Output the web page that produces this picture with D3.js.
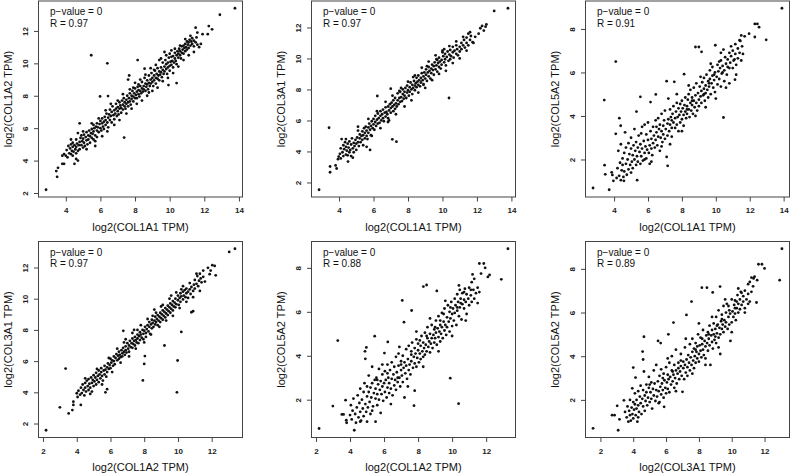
<!DOCTYPE html>
<html><head><meta charset="utf-8">
<script src="https://cdn.jsdelivr.net/npm/d3@7/dist/d3.min.js"></script>
<style>body{margin:0;background:#fff}svg{display:block}</style>
</head><body>
<script>
// ---- data ----
const xGenes = ["COL1A1","COL1A1","COL1A1","COL1A2","COL1A2","COL3A1"];
const yGenes = ["COL1A2","COL3A1","COL5A2","COL3A1","COL5A2","COL5A2"];
const pValues = ["0","0","0","0","0","0"];
const rValues = ["0.97","0.97","0.91","0.97","0.88","0.89"];

const pts1 = [[2.86,2.2],[3.5,3.0],[3.45,3.35],[3.55,3.55],[5.47,10.5],[6.4,10.0],[8.15,10.2],[7.37,5.42],[5.98,7.96],[6.44,7.98],[9.93,8.66],[10.4,8.78],[7.6,9.0],[7.66,9.25],[8.55,9.67],[9.7,10.7],[11.5,12.2],[11.9,11.8],[12.2,11.8],[12.26,12.3],[12.45,12.1],[12.9,13.0],[13.77,13.4],[4.7,5.7],
[3.8,4.3],[3.8,3.8],[3.9,3.8],[3.9,4.4],[4.0,4.3],[4.05,4.65],[4.1,4.2],[4.15,4.9],[4.2,4.45],[4.25,4.75],[4.3,5.0],[4.3,4.4],[4.35,4.6],[4.4,4.85],[4.4,4.3],[4.4,5.1],[4.45,4.55],[4.5,3.8],[4.5,4.95],[4.55,4.7],[4.6,4.45],[4.6,5.3],[4.6,4.85],[4.65,5.05],[4.7,4.0],[4.7,4.6],[4.75,4.95],[4.8,6.3],[4.8,5.15],[4.8,4.7],[4.85,5.4],[4.9,4.95],[4.9,5.55],[4.95,5.2],
[5.0,4.8],[5.0,5.35],[5.05,5.1],[5.05,5.6],[5.1,4.9],[5.15,5.45],[5.2,5.25],[5.2,5.75],[5.25,5.0],[5.3,5.55],[5.3,5.3],[5.35,5.85],[5.4,5.1],[5.4,5.5],[5.45,5.7],[5.5,5.95],[5.5,5.4],[5.55,5.65],[5.6,6.2],[5.6,5.3],[5.6,5.8],[5.65,6.0],[5.7,5.55],[5.7,5.2],[5.75,6.1],[5.8,5.85],[5.8,5.45],[5.8,6.3],[5.85,6.05],[5.9,5.75],[5.95,6.25],
[6.0,6.0],[6.0,6.45],[6.05,5.85],[6.1,6.3],[6.1,6.6],[6.15,6.1],[6.2,5.95],[6.2,6.4],[6.25,6.7],[6.3,6.2],[6.3,6.5],[6.35,6.9],[6.4,6.35],[6.45,6.05],[6.45,6.65],[6.5,6.85],[6.55,6.5],[6.55,7.15],[6.6,6.75],[6.65,6.35],[6.65,7.0],[6.7,7.35],[6.75,6.8],[6.8,7.1],[6.8,6.55],[6.85,6.9],[6.9,7.5],[6.9,7.2],[6.95,6.75],
[7.0,7.05],[7.0,7.3],[7.05,6.85],[7.1,7.6],[7.1,7.2],[7.15,7.4],[7.2,6.95],[7.2,7.25],[7.25,7.7],[7.3,7.45],[7.3,7.15],[7.35,7.85],[7.4,7.35],[7.4,7.6],[7.45,7.2],[7.5,7.75],[7.5,7.5],[7.55,8.0],[7.6,7.6],[7.6,7.35],[7.65,7.85],[7.7,8.15],[7.7,7.65],[7.75,7.45],[7.8,8.0],[7.8,7.8],[7.85,8.3],[7.9,7.65],[7.9,7.95],[7.95,8.15],
[8.0,7.85],[8.0,8.45],[8.05,8.05],[8.1,8.25],[8.1,7.85],[8.15,8.55],[8.2,8.1],[8.2,8.35],[8.25,7.95],[8.3,8.6],[8.3,8.3],[8.35,8.15],[8.4,8.45],[8.4,8.85],[8.45,8.25],[8.5,8.6],[8.5,8.4],[8.55,9.1],[8.6,8.3],[8.6,8.75],[8.65,8.55],[8.7,8.95],[8.7,8.7],[8.75,8.4],[8.8,9.25],[8.8,8.8],[8.85,8.6],[8.9,9.0],[8.9,8.75],[8.95,9.4],
[9.0,8.85],[9.0,9.1],[9.05,8.6],[9.1,9.25],[9.1,8.95],[9.15,9.55],[9.2,9.1],[9.2,8.75],[9.25,9.35],[9.3,9.05],[9.3,9.7],[9.35,9.25],[9.4,9.5],[9.4,8.95],[9.45,9.3],[9.5,9.75],[9.5,9.45],[9.55,9.15],[9.6,9.6],[9.6,10.05],[9.65,9.35],[9.7,9.8],[9.7,9.5],[9.75,10.2],[9.8,9.65],[9.8,9.95],[9.85,9.35],[9.9,10.05],[9.9,9.75],[9.95,10.35],
[10.0,9.85],[10.0,9.55],[10.05,10.1],[10.1,10.4],[10.1,9.9],[10.15,10.15],[10.2,9.75],[10.2,10.45],[10.25,10.05],[10.3,10.3],[10.3,10.65],[10.35,10.15],[10.4,10.5],[10.4,9.95],[10.45,10.75],[10.5,10.35],[10.5,10.6],[10.55,10.9],[10.6,10.5],[10.6,10.75],[10.65,10.3],[10.7,11.05],[10.7,10.65],[10.75,10.85],[10.8,11.1],[10.8,10.6],[10.85,10.95],[10.9,11.2],[10.9,10.75],[10.95,11.0],
[11.0,11.35],[11.0,10.85],[11.05,11.15],[11.1,10.95],[11.1,11.3],[11.15,11.45],[11.2,11.1],[11.25,11.35],[11.3,11.2],[11.3,11.55],[11.4,11.4],[11.4,11.05],[11.5,11.3],[11.55,11.6],[11.6,11.15],[11.7,11.0],
[4.3,5.3],[4.6,4.1],[5.0,5.8],[5.2,4.7],[5.5,6.3],[5.7,4.9],[5.9,6.6],[6.1,5.5],[6.3,7.1],[6.4,5.8],[6.6,7.5],[6.8,6.2],[7.0,7.7],[7.1,6.5],[7.3,8.1],[7.5,6.9],[7.7,8.4],[7.8,7.2],[8.0,8.8],[8.1,7.5],[8.3,9.0],[8.4,7.7],[8.6,9.3],[8.7,8.0],[8.9,9.7],[9.0,8.3],[9.2,9.9],[9.3,8.5],[9.4,10.2],[9.6,8.9],[9.8,10.5],[9.9,9.1],[10.1,10.8],[10.2,9.4],[10.3,10.9],[10.5,9.8],[10.6,11.1],[10.8,10.2],[10.9,11.5],[11.1,10.5],[11.2,11.7],[11.4,10.7],[11.6,11.9],[11.8,11.2],[9.1,9.6],[8.2,8.7],[9.5,10.3],[10.0,10.6],[7.9,8.5],[8.8,8.2]];

const pts2 = [[2.84,1.53],[3.42,5.53],[3.48,3.03],[3.48,2.66],[3.8,3.1],[3.86,2.9],[3.94,3.5],[3.98,3.67],[4.52,3.35],[6.22,7.58],[7.0,8.05],[7.09,4.78],[7.33,4.63],[6.84,5.9],[10.38,7.45],[13.0,13.07],[13.8,13.24],[12.1,11.6],[12.2,11.95],[12.3,12.1],[12.4,11.8],[12.5,12.05],[12.55,12.2],[10.0,10.5],[5.8,4.1],[5.6,4.3],
[4.05,3.85],[4.1,3.55],[4.1,4.2],[4.15,4.8],[4.2,3.95],[4.25,4.4],[4.25,3.7],[4.3,4.15],[4.35,4.6],[4.4,3.8],[4.4,4.3],[4.45,4.05],[4.5,4.5],[4.5,3.75],[4.55,4.25],[4.6,3.95],[4.6,4.65],[4.65,4.1],[4.7,3.7],[4.7,4.45],[4.75,4.85],[4.8,4.2],[4.85,4.55],[4.85,3.95],[4.9,4.35],[4.95,4.75],
[5.0,4.5],[5.0,4.1],[5.05,4.9],[5.1,5.35],[5.1,4.6],[5.15,4.35],[5.2,4.85],[5.2,5.1],[5.25,4.6],[5.3,5.0],[5.35,5.3],[5.35,4.75],[5.4,5.05],[5.45,5.5],[5.5,4.85],[5.5,5.2],[5.55,5.6],[5.6,5.0],[5.6,5.35],[5.65,4.8],[5.7,5.55],[5.7,5.2],[5.75,5.8],[5.8,5.4],[5.85,5.65],[5.85,5.05],[5.9,5.95],[5.95,5.5],
[6.0,5.75],[6.0,6.1],[6.05,5.4],[6.1,5.9],[6.1,6.3],[6.15,5.65],[6.2,6.05],[6.25,5.8],[6.25,6.45],[6.3,6.15],[6.35,5.85],[6.4,6.3],[6.4,6.6],[6.45,6.0],[6.5,6.4],[6.55,6.15],[6.55,6.7],[6.6,5.95],[6.65,6.5],[6.7,6.25],[6.7,6.85],[6.75,6.55],[6.8,6.4],[6.85,6.9],[6.85,6.15],[6.9,6.65],[6.95,7.05],
[7.0,6.5],[7.0,6.8],[7.05,7.15],[7.1,6.9],[7.15,6.6],[7.15,7.3],[7.2,7.0],[7.25,7.45],[7.25,6.75],[7.3,7.1],[7.35,6.9],[7.4,7.3],[7.4,7.75],[7.45,7.05],[7.5,7.45],[7.55,7.2],[7.55,7.85],[7.6,7.5],[7.65,7.25],[7.7,7.7],[7.7,8.0],[7.75,7.4],[7.8,7.85],[7.8,7.6],[7.85,8.1],[7.9,7.45],[7.95,7.8],[7.95,8.25],
[8.0,7.95],[8.05,7.6],[8.1,8.15],[8.1,7.85],[8.15,8.45],[8.2,8.0],[8.25,8.3],[8.25,7.7],[8.3,8.1],[8.35,8.55],[8.4,8.25],[8.4,7.95],[8.45,8.4],[8.5,8.75],[8.5,8.15],[8.55,8.5],[8.6,8.3],[8.6,8.9],[8.65,8.6],[8.7,8.2],[8.75,8.75],[8.75,8.45],[8.8,9.05],[8.85,8.6],[8.9,8.85],[8.9,8.35],[8.95,9.1],
[9.0,8.7],[9.05,8.95],[9.05,9.3],[9.1,8.55],[9.15,9.1],[9.2,8.85],[9.2,9.45],[9.25,9.2],[9.3,8.7],[9.35,9.35],[9.35,9.05],[9.4,9.6],[9.45,9.25],[9.5,8.95],[9.5,9.5],[9.55,9.75],[9.6,9.3],[9.65,9.55],[9.65,9.95],[9.7,9.15],[9.75,9.7],[9.8,9.45],[9.8,10.05],[9.85,9.8],[9.9,9.35],[9.95,9.9],[9.95,9.6],
[10.05,10.15],[10.1,9.75],[10.15,10.3],[10.15,9.95],[10.2,9.55],[10.25,10.1],[10.3,10.45],[10.35,9.85],[10.4,10.25],[10.45,10.55],[10.45,9.95],[10.5,10.15],[10.6,10.4],[10.6,10.75],[10.65,10.05],[10.7,10.5],[10.8,10.3],[10.8,10.85],[10.85,10.6],[10.9,10.2],
[11.0,10.75],[11.0,10.45],[11.1,11.0],[11.1,10.6],[11.2,10.85],[11.25,11.2],[11.3,10.7],[11.4,11.35],[11.4,11.0],[11.5,11.6],[11.5,10.85],[11.6,11.2],[11.65,11.45],[11.75,11.05],[11.9,11.4],
[4.4,4.8],[4.8,3.6],[5.1,5.6],[5.4,4.4],[5.7,6.1],[5.9,5.0],[6.2,6.6],[6.4,5.5],[6.7,7.2],[6.9,6.0],[7.1,7.6],[7.3,6.4],[7.6,8.1],[7.8,6.9],[8.0,8.5],[8.2,7.3],[8.4,8.9],[8.6,7.8],[8.8,9.4],[9.0,8.1],[9.2,9.8],[9.4,8.6],[9.6,10.2],[9.8,9.0],[10.0,10.4],[10.2,9.2],[10.4,10.8],[10.6,9.7],[10.8,11.1],[11.0,10.0],[11.2,11.4],[11.4,10.5],[11.6,11.7],[11.8,11.0],[8.3,8.8],[9.1,9.5],[9.7,9.9],[10.1,10.6],[7.5,7.9],[8.9,8.3]];

const pts3 = [[2.76,0.69],[3.71,0.61],[3.42,4.73],[3.44,1.74],[3.48,1.32],[3.86,1.41],[3.9,1.29],[3.96,1.02],[4.1,3.18],[4.31,3.9],[4.39,3.55],[4.1,6.5],[5.32,4.2],[5.55,4.88],[6.46,4.99],[6.15,4.64],[7.55,5.57],[7.1,5.6],[8.13,5.92],[8.8,7.17],[9.0,7.17],[9.16,6.95],[9.97,7.25],[10.45,7.05],[10.45,3.93],[5.36,1.05],[4.58,1.02],[7.16,1.71],[7.1,2.12],[12.3,8.23],[12.45,8.23],[12.55,8.08],[12.3,7.63],[12.97,7.5],[13.9,8.95],[11.96,7.78],[11.7,7.66],[11.4,7.48],[11.13,5.67],
[4.15,1.15],[4.2,1.6],[4.25,2.4],[4.3,1.25],[4.35,1.85],[4.4,2.7],[4.4,1.05],[4.45,1.5],[4.5,2.05],[4.5,1.75],[4.55,1.2],[4.6,2.3],[4.6,1.45],[4.65,3.25],[4.7,1.8],[4.7,2.55],[4.75,1.3],[4.8,2.0],[4.85,1.55],[4.85,2.75],[4.9,2.25],[4.95,1.75],
[5.0,2.5],[5.0,3.0],[5.05,1.9],[5.1,2.2],[5.1,1.6],[5.15,2.65],[5.2,3.4],[5.2,2.0],[5.25,2.4],[5.3,1.75],[5.3,2.8],[5.35,2.15],[5.4,2.55],[5.4,1.9],[5.45,3.1],[5.5,2.35],[5.55,2.7],[5.55,1.8],[5.6,2.15],[5.65,3.5],[5.65,2.5],[5.7,1.95],[5.75,2.85],[5.8,2.3],[5.8,3.6],[5.85,2.6],[5.9,2.05],[5.9,3.15],[5.95,2.45],
[6.0,2.9],[6.0,3.7],[6.05,2.3],[6.1,2.65],[6.1,1.8],[6.15,3.3],[6.2,2.5],[6.2,2.95],[6.25,2.2],[6.3,3.5],[6.3,2.75],[6.35,3.1],[6.4,2.55],[6.45,3.8],[6.45,2.9],[6.5,3.25],[6.55,2.65],[6.6,3.9],[6.6,3.05],[6.65,3.4],[6.7,2.4],[6.7,3.6],[6.75,3.0],[6.8,4.1],[6.8,3.3],[6.85,2.8],[6.9,3.55],[6.9,3.15],[6.95,3.8],
[7.0,2.95],[7.0,4.25],[7.05,3.4],[7.15,3.65],[7.15,3.1],[7.2,4.8],[7.2,3.85],[7.25,3.3],[7.3,4.3],[7.3,3.6],[7.35,3.95],[7.4,3.45],[7.4,3.05],[7.45,4.1],[7.5,3.7],[7.5,4.45],[7.6,3.9],[7.6,3.45],[7.65,4.2],[7.7,3.6],[7.7,4.6],[7.75,3.95],[7.8,4.35],[7.8,3.3],[7.85,4.05],[7.9,3.7],[7.9,4.55],[7.95,4.2],
[8.0,3.85],[8.0,4.7],[8.05,4.35],[8.1,3.55],[8.1,4.05],[8.15,4.5],[8.2,4.2],[8.2,4.85],[8.25,3.9],[8.3,4.45],[8.3,4.1],[8.35,4.75],[8.4,4.3],[8.4,5.0],[8.45,3.95],[8.5,4.6],[8.5,5.2],[8.55,4.25],[8.6,4.85],[8.6,4.5],[8.65,4.1],[8.7,4.7],[8.7,5.3],[8.75,4.4],[8.8,4.95],[8.85,4.6],[8.85,5.5],[8.9,4.25],[8.95,5.05],
[9.0,4.75],[9.0,4.45],[9.05,5.35],[9.1,4.9],[9.15,5.15],[9.15,4.6],[9.2,5.55],[9.25,4.95],[9.3,5.25],[9.3,5.75],[9.35,4.7],[9.4,5.4],[9.4,5.05],[9.45,5.9],[9.5,5.2],[9.55,5.6],[9.55,4.85],[9.6,5.35],[9.65,6.1],[9.65,5.7],[9.7,5.0],[9.75,5.5],[9.8,5.85],[9.8,6.25],[9.85,5.3],[9.9,5.65],[9.95,6.0],[9.95,5.1],
[10.05,5.8],[10.1,6.35],[10.1,5.45],[10.15,6.05],[10.2,5.7],[10.25,6.2],[10.3,5.35],[10.3,6.55],[10.35,5.95],[10.4,6.3],[10.5,5.6],[10.5,6.1],[10.55,6.7],[10.6,6.4],[10.65,5.9],[10.7,6.6],[10.7,6.25],[10.8,6.9],[10.8,5.5],[10.85,6.45],[10.9,6.75],
[11.0,6.2],[11.0,7.0],[11.05,6.55],[11.15,6.85],[11.15,7.3],[11.2,6.35],[11.3,7.1],[11.3,6.65],[11.4,6.9],[11.45,7.45],[11.5,6.55],[11.55,7.2],[11.6,6.85],
[5.0,1.4],[5.6,3.2],[6.2,1.9],[6.8,2.6],[7.3,2.7],[7.7,5.0],[8.0,3.3],[8.4,5.4],[8.8,4.0],[9.1,5.8],[9.4,4.4],[9.7,6.4],[10.0,4.8],[10.3,6.9],[10.6,5.3],[10.9,7.2],[11.2,5.9],[11.5,7.7],[8.6,4.7],[9.3,5.0],[9.9,5.9],[10.4,6.0],[10.8,6.2],[11.1,6.6],[7.4,3.8],[8.3,4.3],[9.6,5.5],[10.2,6.5],[6.5,3.5],[5.8,2.0]];

const pts4 = [[2.18,1.57],[3.0,3.04],[3.34,5.52],[3.52,2.65],[3.74,2.86],[3.8,3.19],[3.8,3.4],[4.0,3.94],[4.24,3.19],[9.94,4.0],[9.98,6.04],[10.2,7.87],[9.2,7.0],[7.92,4.76],[8.0,5.82],[8.04,6.32],[10.8,9.13],[10.9,9.2],[13.04,13.0],[13.38,13.2],[11.78,11.98],[12.04,12.15],[12.18,12.1],[11.88,11.57],[12.24,11.5],[11.94,11.8],[6.76,7.94],[5.7,4.0],[5.8,4.2],[8.6,9.3],[7.4,8.0],
[4.05,3.7],[4.1,4.1],[4.2,3.85],[4.25,4.3],[4.3,3.95],[4.35,4.5],[4.4,4.15],[4.45,3.8],[4.5,4.6],[4.5,4.3],[4.55,4.05],[4.6,4.75],[4.65,4.4],[4.7,4.15],[4.7,4.85],[4.75,4.55],[4.8,4.3],[4.85,4.95],[4.9,4.6],[4.9,4.05],[4.95,4.8],
[5.0,4.4],[5.0,5.1],[5.05,4.7],[5.1,4.95],[5.15,4.5],[5.15,5.25],[5.2,4.8],[5.25,5.05],[5.3,4.65],[5.3,5.4],[5.35,5.15],[5.4,4.9],[5.45,5.3],[5.45,5.55],[5.5,5.05],[5.55,4.75],[5.6,5.4],[5.65,5.15],[5.65,5.7],[5.7,5.45],[5.75,5.0],[5.8,5.6],[5.8,5.3],[5.85,5.85],[5.9,5.5],[5.95,5.75],
[6.0,6.15],[6.0,5.55],[6.05,5.9],[6.1,6.05],[6.15,5.7],[6.2,6.3],[6.2,6.0],[6.25,5.8],[6.3,6.2],[6.35,6.45],[6.4,6.05],[6.45,6.35],[6.5,6.6],[6.5,6.15],[6.55,6.4],[6.6,6.25],[6.65,6.7],[6.7,6.5],[6.7,6.3],[6.75,6.85],[6.8,6.6],[6.85,6.4],[6.9,6.95],[6.9,6.7],[6.95,6.55],
[7.0,7.15],[7.05,6.8],[7.1,7.0],[7.1,6.6],[7.15,7.3],[7.2,6.9],[7.25,7.15],[7.3,7.45],[7.3,6.85],[7.35,7.1],[7.4,7.3],[7.45,7.55],[7.45,7.0],[7.5,7.35],[7.55,7.2],[7.6,7.7],[7.6,7.45],[7.65,7.15],[7.7,7.6],[7.75,7.85],[7.75,7.35],[7.8,7.7],[7.85,7.5],[7.9,8.0],[7.95,7.75],[7.95,7.4],
[8.0,7.95],[8.05,8.2],[8.1,7.8],[8.1,7.55],[8.15,8.05],[8.2,8.3],[8.25,7.9],[8.3,8.2],[8.3,8.5],[8.35,7.75],[8.4,8.35],[8.45,8.1],[8.45,8.65],[8.5,8.45],[8.55,8.2],[8.6,8.6],[8.65,8.35],[8.65,8.85],[8.7,8.5],[8.75,8.7],[8.8,8.3],[8.8,8.95],[8.85,8.6],[8.9,8.85],[8.95,9.1],[8.95,8.5],
[9.0,8.75],[9.05,9.0],[9.1,9.25],[9.1,8.65],[9.15,8.9],[9.2,9.15],[9.25,9.4],[9.25,8.8],[9.3,9.05],[9.35,9.3],[9.4,8.95],[9.4,9.55],[9.45,9.2],[9.5,9.45],[9.55,9.7],[9.55,9.1],[9.6,9.35],[9.65,9.6],[9.7,9.85],[9.7,9.25],[9.75,9.5],[9.8,9.75],[9.85,10.0],[9.85,9.45],[9.9,9.65],
[10.0,9.9],[10.0,10.2],[10.05,9.6],[10.1,10.05],[10.15,10.35],[10.15,9.8],[10.2,10.15],[10.3,10.45],[10.3,9.95],[10.35,10.2],[10.4,10.55],[10.45,10.1],[10.5,10.35],[10.5,10.65],[10.6,10.45],[10.6,10.05],[10.7,10.6],[10.75,10.3],[10.8,10.75],[10.9,10.5],[10.95,10.9],
[11.0,10.65],[11.0,11.2],[11.1,10.95],[11.15,11.45],[11.2,10.8],[11.25,11.15],[11.3,11.6],[11.35,11.3],[11.4,11.05],[11.5,11.4],
[4.5,4.9],[4.8,3.9],[5.2,5.5],[5.5,4.5],[5.9,6.2],[6.1,5.3],[6.4,6.8],[6.6,5.9],[6.9,7.4],[7.1,6.3],[7.3,7.8],[7.5,6.8],[7.8,8.3],[8.0,7.2],[8.2,8.7],[8.4,7.7],[8.7,9.1],[8.9,8.2],[9.1,9.6],[9.3,8.6],[9.5,10.0],[9.7,8.9],[9.9,10.4],[10.1,9.4],[10.3,10.8],[10.5,9.8],[10.7,11.0],[10.9,10.1],[11.1,11.6],[11.3,10.5],[11.5,11.8],[11.6,11.1],[8.5,8.9],[9.0,9.5],[9.6,10.2],[10.2,10.6],[7.6,8.0],[6.8,7.2]];

const pts5 = [[2.18,0.69],[2.99,1.71],[3.28,4.69],[3.52,1.33],[3.62,1.33],[3.74,1.98],[3.78,1.07],[3.8,0.95],[4.25,0.61],[4.88,4.2],[4.9,3.86],[4.96,4.38],[5.45,4.89],[6.22,4.63],[6.02,4.12],[7.62,6.06],[7.17,5.53],[7.07,6.52],[8.31,7.15],[8.5,7.22],[9.1,6.95],[9.89,2.98],[10.38,1.82],[7.76,1.73],[7.8,2.41],[11.6,8.2],[11.86,8.2],[11.94,8.0],[11.7,7.74],[12.1,7.59],[12.2,7.68],[13.28,8.87],[12.89,7.48],[5.0,1.0],[5.5,1.0],
[4.0,1.3],[4.05,1.75],[4.1,1.1],[4.15,1.5],[4.2,2.05],[4.3,1.35],[4.35,0.95],[4.4,1.65],[4.45,2.2],[4.5,1.2],[4.55,1.85],[4.6,1.45],[4.6,2.5],[4.65,1.05],[4.7,2.0],[4.75,1.6],[4.8,2.35],[4.8,1.25],[4.85,2.75],[4.9,1.8],[4.95,1.45],
[5.0,2.15],[5.0,2.6],[5.05,1.65],[5.1,3.1],[5.1,2.35],[5.15,1.9],[5.2,2.55],[5.2,1.35],[5.25,2.1],[5.3,3.5],[5.3,2.75],[5.35,1.7],[5.4,2.3],[5.45,2.9],[5.5,2.05],[5.5,2.5],[5.55,3.0],[5.6,1.75],[5.6,2.25],[5.65,2.7],[5.7,3.4],[5.7,2.0],[5.75,2.45],[5.8,2.85],[5.8,1.4],[5.85,2.25],[5.9,3.15],[5.9,2.6],[5.95,1.95],
[6.0,2.75],[6.05,3.3],[6.05,2.35],[6.1,2.9],[6.15,2.1],[6.2,3.6],[6.2,2.55],[6.25,3.0],[6.3,2.3],[6.3,2.75],[6.35,3.35],[6.4,2.5],[6.45,3.7],[6.45,2.95],[6.5,2.2],[6.55,3.15],[6.6,2.65],[6.6,3.5],[6.65,2.9],[6.7,3.95],[6.7,2.45],[6.75,3.25],[6.8,2.8],[6.85,3.55],[6.85,4.1],[6.9,3.0],[6.95,2.6],
[7.0,3.35],[7.0,3.75],[7.05,3.1],[7.1,2.8],[7.1,4.0],[7.15,3.45],[7.2,2.1],[7.2,3.7],[7.25,3.2],[7.3,4.3],[7.3,3.55],[7.35,2.95],[7.4,3.85],[7.45,3.35],[7.45,4.45],[7.5,3.6],[7.55,3.15],[7.6,4.05],[7.6,3.75],[7.65,4.6],[7.7,3.45],[7.75,3.95],[7.8,4.35],[7.8,3.65],[7.85,4.1],[7.9,3.5],[7.9,4.75],[7.95,3.9],
[8.0,4.25],[8.0,4.55],[8.05,3.7],[8.1,4.1],[8.15,4.45],[8.15,3.85],[8.2,4.9],[8.25,4.2],[8.3,3.95],[8.3,4.6],[8.35,4.35],[8.4,5.05],[8.4,4.05],[8.45,4.5],[8.5,4.2],[8.55,4.8],[8.55,5.3],[8.6,4.4],[8.65,4.65],[8.7,4.15],[8.7,5.0],[8.75,4.55],[8.8,5.4],[8.8,4.8],[8.85,4.35],[8.9,4.95],[8.95,5.2],[8.95,4.6],
[9.0,4.8],[9.05,5.6],[9.05,5.05],[9.1,4.5],[9.15,5.25],[9.2,4.85],[9.2,5.8],[9.25,5.1],[9.3,4.65],[9.3,5.4],[9.35,5.0],[9.4,5.95],[9.4,5.3],[9.45,4.8],[9.5,5.55],[9.55,5.15],[9.55,6.15],[9.6,5.4],[9.65,4.95],[9.7,5.75],[9.7,5.3],[9.75,6.3],[9.8,5.55],[9.85,5.1],[9.85,6.0],[9.9,5.7],[9.95,6.45],
[10.0,5.35],[10.0,5.9],[10.05,6.15],[10.1,5.6],[10.15,6.6],[10.15,5.95],[10.2,6.3],[10.25,5.4],[10.3,6.05],[10.3,6.8],[10.35,6.45],[10.4,5.8],[10.45,6.2],[10.45,7.0],[10.5,6.6],[10.55,5.65],[10.6,6.35],[10.6,6.85],[10.7,6.15],[10.7,6.55],[10.75,7.05],[10.8,6.45],[10.85,6.8],[10.85,5.9],[10.95,6.6],
[11.0,7.1],[11.0,6.3],[11.1,6.75],[11.15,7.35],[11.15,6.45],[11.25,7.0],[11.3,6.6],[11.3,7.5],[11.4,6.85],[11.5,7.1],[11.5,6.4],[11.6,6.9],
[4.6,1.0],[5.3,1.5],[5.9,3.6],[6.4,1.8],[6.9,4.4],[7.4,2.6],[7.9,5.1],[8.3,3.5],[8.7,5.7],[9.2,4.2],[9.6,6.5],[10.0,4.9],[10.4,7.2],[10.8,5.6],[11.2,7.7],[8.5,4.9],[9.0,5.3],[9.5,5.9],[9.9,6.2],[10.3,6.2],[10.7,6.9],[11.1,7.0],[7.6,4.2],[8.1,4.7],[9.3,5.6],[10.5,6.4],[6.2,3.2],[6.8,3.0],[5.6,2.9],[7.0,3.6]];

const pts6 = [[1.55,0.7],[2.71,1.3],[2.86,1.3],[3.02,1.73],[3.08,0.61],[3.16,1.11],[3.43,1.98],[4.0,3.48],[4.14,3.02],[3.94,2.53],[4.65,4.89],[4.57,4.21],[4.6,3.85],[5.51,4.7],[5.67,4.6],[6.14,5.0],[6.45,5.54],[7.24,5.89],[7.55,6.5],[8.18,7.14],[8.49,7.14],[9.29,7.19],[8.84,6.92],[9.92,4.7],[7.0,2.37],[5.88,1.68],[11.63,8.21],[11.84,8.21],[12.0,8.02],[11.39,7.64],[11.33,7.56],[11.55,7.48],[13.06,8.92],[12.92,7.48],[11.51,6.46],
[3.5,1.45],[3.6,1.2],[3.65,1.7],[3.7,1.0],[3.75,1.5],[3.8,1.3],[3.8,2.0],[3.85,1.05],[3.9,1.65],[3.95,1.35],[4.0,1.9],[4.0,1.15],[4.05,1.55],[4.1,2.3],[4.1,1.8],[4.15,1.3],[4.2,2.0],[4.2,1.6],[4.25,1.0],[4.3,2.4],[4.3,1.75],[4.35,1.45],[4.4,2.15],[4.45,1.85],[4.45,2.65],[4.5,1.35],[4.55,2.05],[4.6,1.7],[4.6,2.45],[4.65,3.3],[4.7,2.2],[4.7,1.5],[4.75,1.95],[4.8,2.7],[4.8,2.35],[4.85,1.75],[4.9,2.1],[4.95,2.55],[4.95,3.05],
[5.0,1.9],[5.05,2.35],[5.1,2.8],[5.1,2.05],[5.15,1.6],[5.2,2.5],[5.25,3.35],[5.25,2.2],[5.3,2.75],[5.35,1.95],[5.4,2.45],[5.4,3.6],[5.45,2.15],[5.5,2.85],[5.55,2.4],[5.55,1.85],[5.6,3.1],[5.65,2.6],[5.7,2.25],[5.7,3.4],[5.75,2.75],[5.8,2.45],[5.85,3.2],[5.85,2.1],[5.9,2.9],[5.95,2.55],
[6.0,3.5],[6.0,2.3],[6.05,2.8],[6.1,3.15],[6.1,2.5],[6.15,2.95],[6.2,2.35],[6.2,3.7],[6.25,3.05],[6.3,2.7],[6.35,3.35],[6.35,4.0],[6.4,2.85],[6.45,3.15],[6.5,2.55],[6.5,3.6],[6.55,3.0],[6.6,3.35],[6.6,4.3],[6.65,2.75],[6.7,3.2],[6.75,3.7],[6.75,3.45],[6.8,2.95],[6.85,3.3],[6.9,4.1],[6.9,3.55],[6.95,3.1],
[7.05,3.45],[7.05,3.75],[7.1,2.95],[7.15,3.6],[7.15,4.4],[7.2,3.25],[7.25,3.85],[7.3,3.5],[7.3,3.1],[7.35,4.05],[7.4,3.7],[7.45,4.55],[7.45,3.35],[7.5,3.95],[7.55,3.6],[7.6,4.2],[7.6,4.8],[7.65,3.8],[7.7,3.45],[7.7,4.35],[7.75,4.0],[7.8,4.6],[7.8,3.7],[7.85,4.2],[7.9,3.9],[7.9,4.45],[7.95,5.0],
[8.0,4.1],[8.0,3.75],[8.05,4.5],[8.1,4.25],[8.1,4.85],[8.15,3.95],[8.2,4.55],[8.25,4.3],[8.25,5.2],[8.3,4.05],[8.35,4.7],[8.4,4.45],[8.4,3.9],[8.45,4.95],[8.5,4.6],[8.55,4.25],[8.55,5.1],[8.6,4.8],[8.65,5.4],[8.65,4.5],[8.7,3.6],[8.75,4.95],[8.8,4.65],[8.8,5.2],[8.85,4.35],[8.9,5.0],[8.9,5.5],[8.95,4.75],
[9.0,5.25],[9.05,4.6],[9.05,5.8],[9.1,5.05],[9.15,5.45],[9.2,4.85],[9.2,6.1],[9.25,5.3],[9.3,5.0],[9.3,4.1],[9.35,5.6],[9.4,5.25],[9.4,5.9],[9.45,5.45],[9.5,5.1],[9.5,6.3],[9.55,5.65],[9.6,5.35],[9.65,6.0],[9.65,5.55],[9.7,6.4],[9.75,5.25],[9.8,5.8],[9.85,6.1],[9.85,5.45],[9.9,5.95],
[10.0,5.55],[10.0,6.6],[10.05,6.05],[10.1,5.8],[10.15,6.35],[10.2,5.95],[10.2,6.55],[10.25,5.65],[10.3,6.2],[10.35,6.8],[10.4,6.0],[10.4,6.4],[10.5,6.6],[10.5,6.15],[10.55,6.95],[10.6,6.35],[10.7,6.75],[10.7,6.5],[10.8,6.2],[10.8,7.0],[10.9,6.6],
[11.0,6.85],[11.0,7.3],[11.1,6.5],[11.1,7.4],[11.2,6.95],[11.3,7.2],
[4.3,1.2],[5.0,2.7],[5.6,1.9],[6.1,3.9],[6.6,2.4],[7.2,4.8],[7.6,3.2],[8.0,5.5],[8.4,3.6],[8.8,5.8],[9.2,4.4],[9.6,6.6],[10.0,5.1],[10.4,7.1],[10.8,6.0],[11.2,7.6],[8.6,5.0],[9.0,4.9],[9.4,5.7],[9.8,6.3],[10.2,6.2],[10.6,6.9],[11.0,6.4],[7.8,4.3],[8.2,4.8],[9.1,5.4],[10.3,6.5],[6.4,3.3],[6.9,3.8],[5.8,3.0]];

const panelPoints = [pts1, pts2, pts3, pts4, pts5, pts6];

// ---- layout ----
const W = 792, H = 475;
const colLeft = [38.5, 311.5, 585.5], rowTop = [1, 241.5];
const pw = 204, ph = 196;
const font = "'Liberation Sans', Arial, Helvetica, sans-serif";

const svg = d3.select("body").append("svg").attr("width", W).attr("height", H)
  .style("font-family", font);

const pad = e => { const d = e[1] - e[0]; return [e[0] - 0.04 * d, e[1] + 0.04 * d]; };

panelPoints.forEach((pts, i) => {
  const c = i % 3, r = Math.floor(i / 3);
  const x0 = colLeft[c], y0 = rowTop[r];
  const xs = d3.scaleLinear().domain(pad(d3.extent(pts, d => d[0]))).range([x0, x0 + pw]);
  const ys = d3.scaleLinear().domain(pad(d3.extent(pts, d => d[1]))).range([y0 + ph, y0]);
  const g = svg.append("g");

  g.append("g").selectAll("circle").data(pts).join("circle")
    .attr("cx", d => xs(d[0])).attr("cy", d => ys(d[1]))
    .attr("r", 1.4).attr("fill", "#111");

  g.append("rect").attr("x", x0).attr("y", y0).attr("width", pw).attr("height", ph)
    .attr("fill", "none").attr("stroke", "#444").attr("stroke-width", 1);

  const xa = g.append("g").attr("transform", `translate(0,${y0 + ph})`)
    .call(d3.axisBottom(xs).ticks(5).tickSize(4.5).tickSizeOuter(0).tickPadding(6).tickFormat(d3.format("d")));
  xa.select(".domain").remove();
  xa.selectAll("line").attr("stroke", "#444");
  xa.selectAll("text").attr("fill", "#222").style("font-size", "8px").style("font-weight", "bold")
    .style("font-family", font);

  const ya = g.append("g").attr("transform", `translate(${x0},0)`)
    .call(d3.axisLeft(ys).ticks(5).tickSize(4.5).tickSizeOuter(0).tickFormat(d3.format("d")));
  ya.select(".domain").remove();
  ya.selectAll("line").attr("stroke", "#444");
  ya.selectAll("text").attr("x", null).attr("dy", "0.35em")
    .attr("transform", "translate(-13,0) rotate(-90)").attr("text-anchor", "middle")
    .attr("fill", "#222").style("font-size", "8px").style("font-weight", "bold").style("font-family", font);

  g.append("text").attr("x", x0 + pw / 2).attr("y", y0 + ph + 33.5)
    .attr("text-anchor", "middle").style("font-size", "11px").attr("fill", "#111")
    .text(`log2(${xGenes[i]} TPM)`);
  g.append("text").attr("transform", `translate(${x0 - 30},${y0 + ph / 2}) rotate(-90)`)
    .attr("dy", "0.35em").attr("text-anchor", "middle").style("font-size", "11px").attr("fill", "#111")
    .text(`log2(${yGenes[i]} TPM)`);

  g.append("text").attr("x", x0 + 11.5).attr("y", y0 + 14)
    .style("font-size", "10px").attr("fill", "#111").text(`p\u2212value = ${pValues[i]}`);
  g.append("text").attr("x", x0 + 11.5).attr("y", y0 + 25.5)
    .style("font-size", "10px").attr("fill", "#111").text(`R = ${rValues[i]}`);
});
</script>
</body></html>
